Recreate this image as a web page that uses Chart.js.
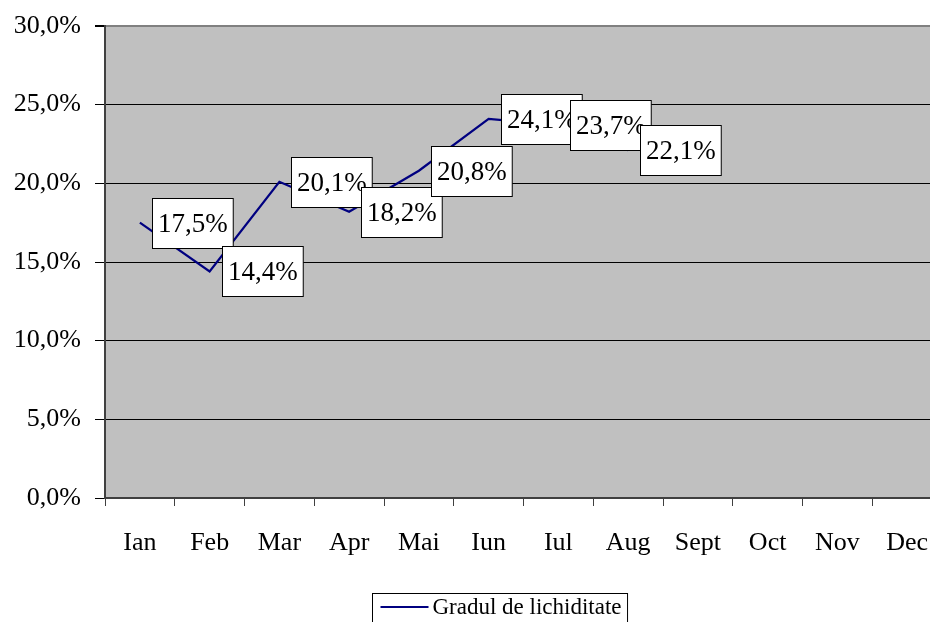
<!DOCTYPE html>
<html>
<head>
<meta charset="utf-8">
<script src="https://cdn.jsdelivr.net/npm/chart.js@4/dist/chart.umd.min.js"></script>
<style>
  html, body { margin: 0; padding: 0; background: #fff; overflow: hidden; }
  #wrap { width: 930px; height: 622px; overflow: hidden; }
  canvas { display: block; }
</style>
</head>
<body>
<div id="wrap"><canvas id="chart" width="945" height="622"></canvas></div>
<script>
// ── data ──
const MONTHS = ['Ian', 'Feb', 'Mar', 'Apr', 'Mai', 'Iun', 'Iul', 'Aug', 'Sept', 'Oct', 'Nov', 'Dec'];
const LIQUIDITY = [17.5, 14.4, 20.1, 18.2, 20.8, 24.1, 23.7, 22.1, null, null, null, null];
const SERIES_LABEL = 'Gradul de lichiditate';
const Y_TICKS = [0, 5, 10, 15, 20, 25, 30];

const FONT = '"Liberation Serif", "Times New Roman", serif';
const fmt = v => v.toFixed(1).replace('.', ',') + '%';

// gray plot background
const plotBg = {
  id: 'plotBg',
  beforeDraw(chart) {
    const { ctx, chartArea: a } = chart;
    ctx.save();
    ctx.fillStyle = '#c0c0c0';
    ctx.fillRect(a.left, a.top, a.right - a.left, a.bottom - a.top);
    ctx.restore();
  },
};

// white boxed value labels to the right of each point
const valueBoxes = {
  id: 'valueBoxes',
  afterDatasetsDraw(chart) {
    const { ctx } = chart;
    const meta = chart.getDatasetMeta(0);
    ctx.save();
    ctx.font = '27px ' + FONT;
    ctx.textBaseline = 'middle';
    meta.data.forEach((pt, i) => {
      const v = LIQUIDITY[i];
      if (v == null) return;
      const txt = fmt(v);
      const w = ctx.measureText(txt).width + 11;
      const h = 50;
      const x = Math.round(pt.x + 12) + 0.5;
      const y = Math.round(pt.y - h / 2) + 0.5;
      ctx.fillStyle = '#fff';
      ctx.fillRect(x, y, w, h);
      ctx.strokeStyle = '#000';
      ctx.lineWidth = 1;
      ctx.strokeRect(x, y, w, h);
      ctx.fillStyle = '#000';
      ctx.fillText(txt, x + 5.5, y + h / 2 + 1);
    });
    ctx.restore();
  },
};

// boxed legend at the bottom
const boxLegend = {
  id: 'boxLegend',
  afterDraw(chart) {
    const { ctx } = chart;
    ctx.save();
    ctx.font = '23px ' + FONT;
    const tw = ctx.measureText(SERIES_LABEL).width;
    const left = 372.5, top = 593.5;
    const w = 8 + 48 + 4 + tw + 6;
    ctx.fillStyle = '#fff';
    ctx.fillRect(left, top, w, 40);
    ctx.strokeStyle = '#000';
    ctx.lineWidth = 1;
    ctx.strokeRect(left, top, w, 40);
    ctx.strokeStyle = '#000080';
    ctx.lineWidth = 2;
    ctx.beginPath();
    ctx.moveTo(left + 8, 607);
    ctx.lineTo(left + 56, 607);
    ctx.stroke();
    ctx.fillStyle = '#000';
    ctx.textBaseline = 'middle';
    ctx.fillText(SERIES_LABEL, left + 60, 608);
    ctx.restore();
  },
};

new Chart(document.getElementById('chart'), {
  type: 'line',
  data: {
    labels: MONTHS,
    datasets: [{
      label: SERIES_LABEL,
      data: LIQUIDITY,
      borderColor: '#000080',
      borderWidth: 2.2,
      pointRadius: 0,
      tension: 0,
      fill: false,
    }],
  },
  options: {
    responsive: false,
    animation: false,
    layout: { padding: { top: 26, right: 3, left: 0, bottom: 0 } },
    plugins: {
      legend: { display: false },
      tooltip: { enabled: false },
    },
    scales: {
      x: {
        offset: true,
        grid: {
          offset: true,
          drawOnChartArea: false,
          tickLength: 8,
          color: '#404040',
        },
        border: { color: '#404040', width: 2 },
        ticks: {
          color: '#000',
          font: { family: FONT, size: 26 },
          padding: 22,
          maxRotation: 0,
          autoSkip: false,
        },
        afterFit: s => {
          s.height = 124;
          s.paddingLeft = 0;
          s.paddingRight = 0;
        },
      },
      y: {
        min: 0,
        max: 30,
        afterBuildTicks: s => { s.ticks = Y_TICKS.map(v => ({ value: v })); },
        grid: {
          color: c => (c.tick && c.tick.value === 30 ? '#808080' : '#000'),
          lineWidth: c => (c.tick && c.tick.value === 30 ? 2 : 1),
          tickLength: 10,
          tickColor: '#000',
        },
        border: { color: '#404040', width: 2 },
        ticks: {
          color: '#000',
          font: { family: FONT, size: 26 },
          padding: 14,
          callback: v => fmt(v),
        },
        afterFit: s => {
          s.width = 105;
          s.paddingTop = 0;
          s.paddingBottom = 0;
        },
      },
    },
  },
  plugins: [plotBg, valueBoxes, boxLegend],
});
</script>
</body>
</html>
